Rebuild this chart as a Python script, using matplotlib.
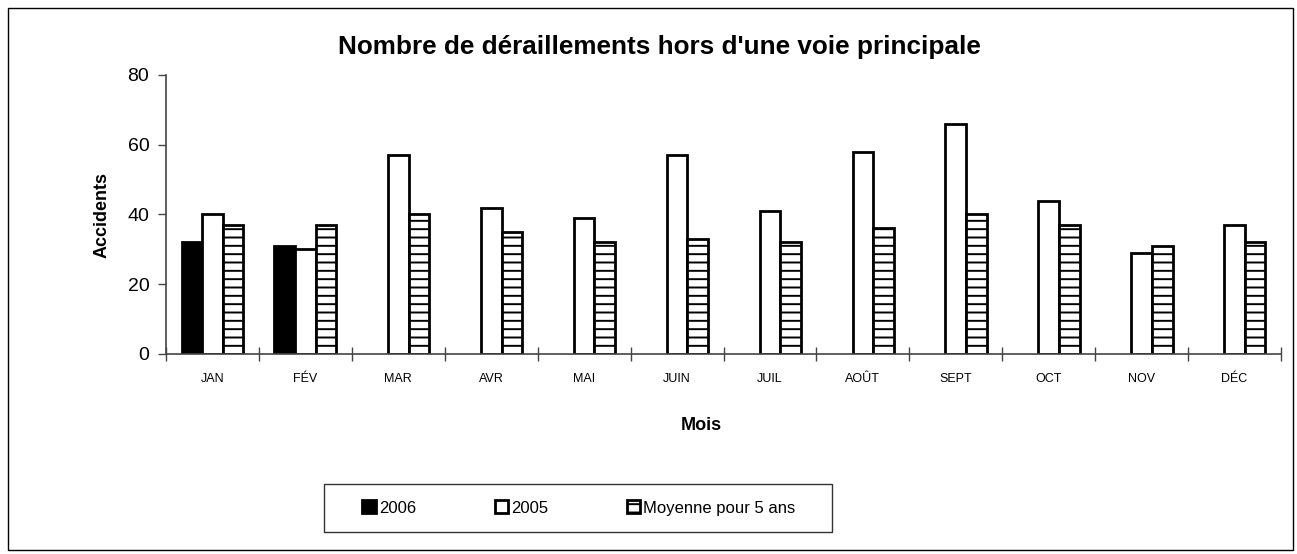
import matplotlib
matplotlib.use("Agg")
import matplotlib.pyplot as plt
import numpy as np
from matplotlib.patches import Rectangle

months = ["JAN", "FÉV", "MAR", "AVR", "MAI", "JUIN", "JUIL", "AOÛT", "SEPT", "OCT", "NOV", "DÉC"]
y2006 = [32, 31]
y2005 = [40, 30, 57, 42, 39, 57, 41, 58, 66, 44, 29, 37]
avg5 = [37, 37, 40, 35, 32, 33, 32, 36, 40, 37, 31, 32]
yticks = [0, 20, 40, 60, 80]

plt.rcParams['font.family'] = ['Liberation Sans', 'DejaVu Sans']
plt.rcParams['hatch.linewidth'] = 1.4
plt.rcParams['hatch.color'] = '#333333'

W, H = 1297, 554
fig = plt.figure(figsize=(W/100, H/100), dpi=100)
ax = fig.add_axes([166/W, 1-354/H, (1281-166)/W, (354-75)/H])

x = np.arange(len(months))
bw = 0.222
ax.bar(x[:len(y2006)] - bw, y2006, bw, color='black', edgecolor='black', linewidth=2, label='2006')
ax.bar(x, y2005, bw, color='white', edgecolor='black', linewidth=2, label='2005')
ax.bar(x + bw, avg5, bw, color='white', edgecolor='black', linewidth=2, hatch='--', label='Moyenne pour 5 ans')

ax.set_xlim(-0.5, len(months) - 0.5)
ax.set_ylim(0, 80)
ax.set_yticks(yticks)
ax.set_xticks(x)
ax.set_xticklabels(months, fontsize=9)
ax.set_xticks(np.arange(len(months) + 1) - 0.5, minor=True)
ax.tick_params(axis='x', which='major', length=0, pad=14)
ax.tick_params(axis='x', which='minor', length=10, direction='inout', width=1, color='#444444')
ax.tick_params(axis='y', length=6, width=1, color='#444444', labelsize=14, pad=6)
for s in ['top', 'right']:
    ax.spines[s].set_visible(False)
for s in ['left', 'bottom']:
    ax.spines[s].set_color('#444444')
    ax.spines[s].set_linewidth(1.2)

ax.set_ylabel('Accidents', fontsize=13, fontweight='bold', labelpad=12)
fig.text(701/W, 1-425/H, 'Mois', ha='center', va='center', fontsize=13, fontweight='bold')
fig.text(659/W, 1-47/H, "Nombre de déraillements hors d'une voie principale", ha='center', va='center',
         fontsize=18.8, fontweight='bold')

leg = fig.legend(loc='center', bbox_to_anchor=(579/W, 1-508/H), ncol=3, fontsize=12,
                 frameon=False, borderpad=0.0,
                 handlelength=0.8, handleheight=0.8, handletextpad=0.2, columnspacing=4.7)

fig.patches.append(Rectangle((324/W, 1-532/H), (832-324)/W, (532-484)/H, transform=fig.transFigure,
                             fill=False, edgecolor='#333333', linewidth=1))
fig.patches.append(Rectangle((8/W, 1-550/H), (1293-8)/W, (550-8)/H, transform=fig.transFigure,
                             fill=False, edgecolor='black', linewidth=1))

fig.savefig('out.png', dpi=100)
